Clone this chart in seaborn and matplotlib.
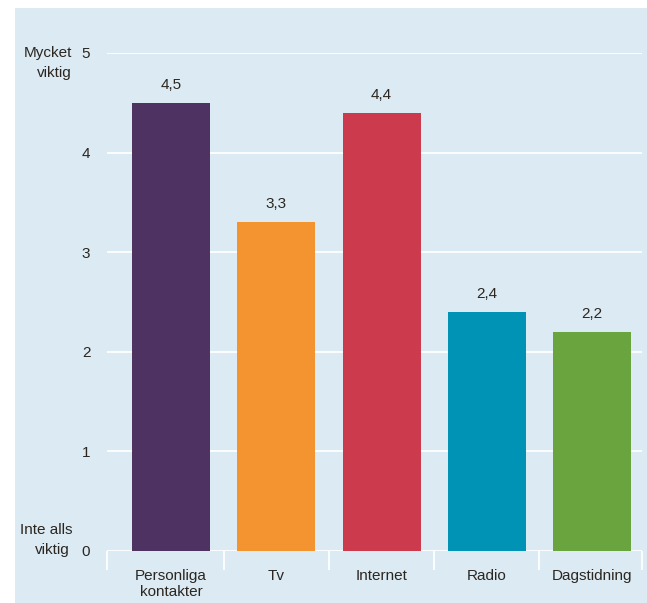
import matplotlib
matplotlib.use("Agg")
import matplotlib.pyplot as plt
import matplotlib.transforms as mtransforms
from matplotlib.patches import Rectangle
import seaborn as sns
import pandas as pd

categories = ["Personliga\nkontakter", "Tv", "Internet", "Radio", "Dagstidning"]
values = [4.5, 3.3, 4.4, 2.4, 2.2]
value_labels = ["4,5", "3,3", "4,4", "2,4", "2,2"]
colors = ["#4e3262", "#f39431", "#cc3a4e", "#0093b5", "#69a43f"]
yticks = [0, 1, 2, 3, 4, 5]

bg = "#dbeaf3"
txt = "#2b2620"

sns.set_theme(style="white")
plt.rcParams["font.family"] = ["Liberation Sans", "DejaVu Sans"]

fig = plt.figure(figsize=(6.47, 6.03), dpi=100, facecolor="white")
bgrect = Rectangle((15 / 647, 0), 1 - 15 / 647, 1 - 8 / 603,
                   transform=fig.transFigure, facecolor=bg,
                   edgecolor="none", zorder=-10)
fig.add_artist(bgrect)

ax = fig.add_axes([107 / 647, 1 - 551 / 603, (642 - 107) / 647, (551 - 53) / 603])
ax.set_facecolor("none")
ax.set_zorder(1)

df = pd.DataFrame({"cat": categories, "val": values})
sns.barplot(data=df, x="cat", y="val", hue="cat", palette=colors,
            legend=False, width=0.74, saturation=1, ax=ax, zorder=3,
            linewidth=0, edgecolor="none")

ax.set_xlim(-0.61, 4.475)
ax.set_ylim(0, 5)
ax.set_yticks(yticks)
ax.set_yticklabels([str(t) for t in yticks])
ax.yaxis.grid(True, color="white", linewidth=1.3, zorder=0)
ax.set_axisbelow(True)
ax.set_xlabel("")
ax.set_ylabel("")
for s in ax.spines.values():
    s.set_visible(False)

ax.set_xticks([-0.61, 0.5, 1.5, 2.5, 3.5, 4.475], minor=True)
ax.tick_params(axis="x", which="minor", bottom=True, length=14, width=1.3,
               color="white", direction="out")
ax.tick_params(axis="x", which="major", length=0, pad=13, labelsize=11,
               labelcolor=txt)
ax.tick_params(axis="y", length=0, pad=12, labelsize=11, labelcolor=txt)

for i, (v, lab) in enumerate(zip(values, value_labels)):
    ax.annotate(lab, (i, v), xytext=(0, 8), textcoords="offset points",
                ha="center", va="bottom", fontsize=11, color=txt)

trans = mtransforms.blended_transform_factory(fig.transFigure, ax.transData)
ax.text(72 / 647, 5, "Mycket", transform=trans, ha="right", va="center",
        fontsize=11, color=txt)
ax.text(72 / 647, 4.8, "viktig", transform=trans, ha="right", va="center",
        fontsize=11, color=txt)
ax.text(72 / 647, 0.21, "Inte alls", transform=trans, ha="right", va="center",
        fontsize=11, color=txt)
ax.text(70 / 647, 0.01, "viktig", transform=trans, ha="right", va="center",
        fontsize=11, color=txt)

fig.savefig("out.png", dpi=100, facecolor="white")
